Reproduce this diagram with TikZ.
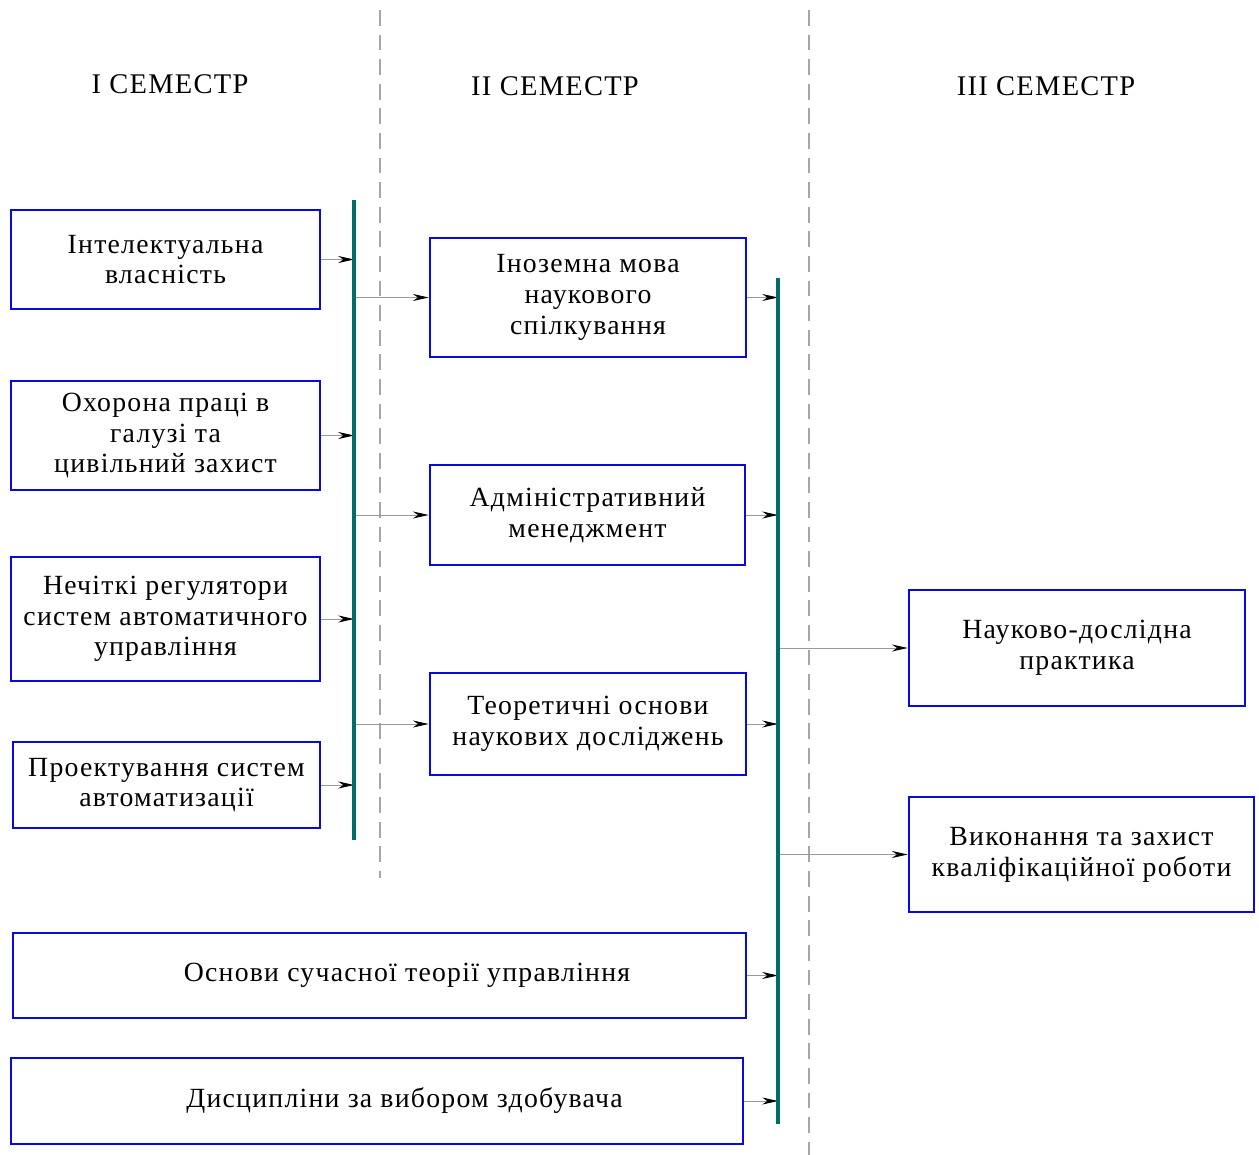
\documentclass[tikz,border=0pt]{standalone}
\usepackage{fontspec}
\setmainfont[LetterSpace=4.5]{Liberation Serif}
\usetikzlibrary{arrows.meta, positioning}
\definecolor{barteal}{RGB}{0,110,100}
\definecolor{boxblue}{RGB}{10,10,220}

\begin{document}
\begin{tikzpicture}[x=0.2mm, y=-0.2mm,
    box/.style={draw=boxblue, line width=1.5pt, align=center, inner sep=2pt,
                font=\fontsize{15.8}{17.5}\selectfont},
    link/.style={draw=gray!80, line width=0.5pt, -{Stealth[length=9pt, width=4pt, black]}},
    bar/.style={draw=barteal, line width=2.3pt},
    sep/.style={draw=gray!70, line width=0.7pt, dash pattern=on 9pt off 5pt},
    head/.style={font=\fontsize{16.2}{17}\selectfont}]
    \useasboundingbox (0,0) rectangle (1259,1155);

    % Semester separators
    \draw[sep] (380,10) -- (380,878);
    \draw[sep] (809,10) -- (809,1155);

    % Semester titles
    \node[head] (sem1) at (170,84) {I СЕМЕСТР};
    \node[head] (sem2) at (555,86) {II СЕМЕСТР};
    \node[head] (sem3) at (1046,86) {III СЕМЕСТР};

    % Collecting bars
    \coordinate (barA) at (354,200);
    \coordinate (barAend) at (354,840);
    \coordinate (barB) at (778,278);
    \coordinate (barBend) at (778,1124);

    % First semester
    \node[box, minimum width=61.8mm, minimum height=19.8mm] (int) at (165.5,259.5) {Інтелектуальна\\власність};
    \node[box, minimum width=61.8mm, minimum height=21.8mm] (ohor) at (165.5,435.5) {Охорона праці в\\галузі та\\цивільний захист};
    \node[box, minimum width=61.8mm, minimum height=24.8mm] (nech) at (165.5,619) {Нечіткі регулятори\\систем автоматичного\\управління};
    \node[box, minimum width=61.4mm, minimum height=17.2mm] (proj) at (166.5,785) {Проектування систем\\автоматизації};

    % Second semester
    \node[box, minimum width=63.2mm, minimum height=23.8mm] (inoz) at (588,297.5) {Іноземна мова\\наукового\\спілкування};
    \node[box, minimum width=63mm, minimum height=20mm] (adm) at (587.5,515) {Адміністративний\\менеджмент};
    \node[box, minimum width=63.2mm, minimum height=20.4mm] (teor) at (588,724) {Теоретичні основи\\наукових досліджень};

    % Through all semesters
    \node[box, minimum width=146.6mm, minimum height=17mm] (osn) at (379.5,975.5) {\hspace*{11mm}Основи сучасної теорії управління};
    \node[box, minimum width=146.4mm, minimum height=17.2mm] (disc) at (377,1101) {\hspace*{11mm}Дисципліни за вибором здобувача};

    % Third semester
    \node[box, minimum width=67.2mm, minimum height=23.2mm] (prak) at (1077,648) {Науково-дослідна\\практика};
    \node[box, minimum width=69mm, minimum height=23mm] (kval) at (1081.5,854.5) {Виконання та захист\\кваліфікаційної роботи};

    % Arrows into the first bar
    \foreach \b in {int, ohor, nech, proj} {
        \draw[link] (\b.east) -- (\b.east -| barA);
    }

    % From the first bar to the second semester
    \foreach \b in {inoz, adm, teor} {
        \draw[link] (\b.west -| barA) -- (\b.west);
    }

    % Arrows into the second bar
    \foreach \b in {inoz, adm, teor, osn, disc} {
        \draw[link] (\b.east) -- (\b.east -| barB);
    }

    % From the second bar to the third semester
    \foreach \b in {prak, kval} {
        \draw[link] (\b.west -| barB) -- (\b.west);
    }

    \draw[bar] (barA) -- (barAend);
    \draw[bar] (barB) -- (barBend);
\end{tikzpicture}
\end{document}
